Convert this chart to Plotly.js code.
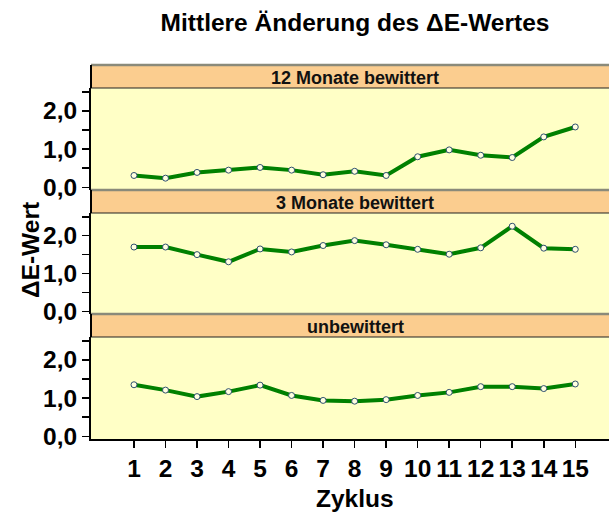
<!DOCTYPE html>
<html><head><meta charset="utf-8">
<script src="https://cdn.plot.ly/plotly-3.0.1.min.js"></script>
<style>html,body{margin:0;padding:0;overflow:hidden;background:#fff}</style>
</head><body>
<div id="chart" style="width:609px;height:515px"></div>
<script>
const zyklus = [1,2,3,4,5,6,7,8,9,10,11,12,13,14,15];
const panelNames = ["12 Monate bewittert", "3 Monate bewittert", "unbewittert"];
const werte12Monate = [0.31,0.24,0.39,0.45,0.52,0.45,0.33,0.42,0.31,0.80,0.98,0.84,0.78,1.32,1.58];
const werte3Monate = [1.70,1.70,1.50,1.31,1.65,1.57,1.74,1.87,1.76,1.64,1.51,1.68,2.25,1.67,1.64];
const werteUnbewittert = [1.35,1.21,1.04,1.17,1.34,1.07,0.94,0.92,0.96,1.07,1.15,1.30,1.30,1.25,1.37];
const yTickVals = [0,0.5,1,1.5,2,2.5];
const yTickText = ["0,0","","1,0","","2,0",""];

const FONT = "Liberation Sans, Arial, sans-serif";
const series = [werte12Monate, werte3Monate, werteUnbewittert];
const axisIds = ["", "2", "3"];
// pixel layout: paper spans y 65..439 (374px)
const H = 374, bottom = 439;
const py = p => (bottom - p) / H;
const panels = [
  {strip:[65,88], plot:[88,190]},
  {strip:[190,213], plot:[213,314]},
  {strip:[314,337], plot:[337,439]}
];

const traces = series.map((v,i) => ({
  x: zyklus, y: v, type: "scatter", mode: "lines+markers",
  xaxis: "x" + axisIds[i], yaxis: "y" + axisIds[i],
  line: {color: "#008000", width: 4},
  marker: {symbol: "circle", size: 6, color: "#FFFFE0", line: {color: "#2F4F6F", width: 1}},
  showlegend: false, hoverinfo: "skip"
}));

const layout = {
  width: 609, height: 515,
  margin: {l: 91, r: 0, t: 65, b: 76},
  paper_bgcolor: "#ffffff", plot_bgcolor: "#FFFFC6",
  font: {family: FONT, color: "#000"},
  title: {text: "Mittlere Änderung des ΔE-Wertes", xref: "container", x: 355/609, xanchor: "center",
          yref: "container", y: 1 - 22/515, yanchor: "middle",
          font: {family: FONT, size: 24.5, weight: "bold", color: "#000"}},
  shapes: [], annotations: []
};

panels.forEach((p,i) => {
  const sfx = axisIds[i];
  const xa = {
    domain: [0,1], range: [-0.364, 16.07], showgrid: false, zeroline: false,
    showline: false, showticklabels: false, ticks: "", anchor: "y" + sfx, fixedrange: true
  };
  const ya = {
    domain: [py(p.plot[1]), py(p.plot[0])], range: [-0.07, 2.6], anchor: "x" + sfx,
    tickvals: yTickVals, ticktext: yTickText, ticks: "outside", ticklen: 7, tickwidth: 1.5, tickcolor: "#000",
    showline: true, linecolor: "#000", linewidth: 2, showgrid: false, zeroline: false,
    tickfont: {family: FONT, size: 24.5, weight: "bold", color: "#000"}, fixedrange: true
  };
  if (i === 2) {
    Object.assign(xa, {
      tickvals: zyklus, ticktext: zyklus.map(String), showticklabels: true, ticks: "outside",
      ticklen: 7, tickwidth: 1.5, tickcolor: "#000", showline: true, linecolor: "#000", linewidth: 2,
      tickfont: {family: FONT, size: 24.5, weight: "bold", color: "#000"}
    });
  }
  layout["xaxis" + sfx] = xa;
  layout["yaxis" + sfx] = ya;

  // strip
  layout.shapes.push({type: "rect", xref: "paper", yref: "paper", x0: 0, x1: 1.05,
    y0: py(p.strip[1]), y1: py(p.strip[0]), fillcolor: "#FBCD8F", line: {width: 0}, layer: "above"});
  layout.shapes.push({type: "line", xref: "paper", yref: "paper", x0: 0, x1: 1.05,
    y0: py(p.strip[0]), y1: py(p.strip[0]), line: {color: "#8A8A7A", width: 2.5}, layer: "above"});
  layout.shapes.push({type: "line", xref: "paper", yref: "paper", x0: 0, x1: 1.05,
    y0: py(p.strip[1]), y1: py(p.strip[1]), line: {color: "#222", width: 1.2}, layer: "above"});
  layout.shapes.push({type: "line", xref: "paper", yref: "paper", x0: 0, x1: 0,
    y0: py(p.strip[1]), y1: py(p.strip[0]), line: {color: "#000", width: 2}, layer: "above"});
  layout.annotations.push({text: panelNames[i], xref: "paper", yref: "paper",
    x: (355-91)/518, y: py((p.strip[0]+p.strip[1])/2 + 1), xanchor: "center", yanchor: "middle",
    showarrow: false, font: {family: FONT, size: 18, weight: "bold", color: "#111"}});
});

layout.annotations.push({text: "ΔE-Wert", xref: "paper", yref: "paper", x: (30-91)/518, y: py(250),
  xanchor: "center", yanchor: "middle", textangle: -90, showarrow: false,
  font: {family: FONT, size: 24.5, weight: "bold", color: "#000"}});
layout.annotations.push({text: "Zyklus", xref: "paper", yref: "paper", x: (355-91)/518, y: py(498),
  xanchor: "center", yanchor: "middle", showarrow: false,
  font: {family: FONT, size: 24.5, weight: "bold", color: "#000"}});

Plotly.newPlot("chart", traces, layout, {staticPlot: true, displayModeBar: false});
</script>
</body></html>
